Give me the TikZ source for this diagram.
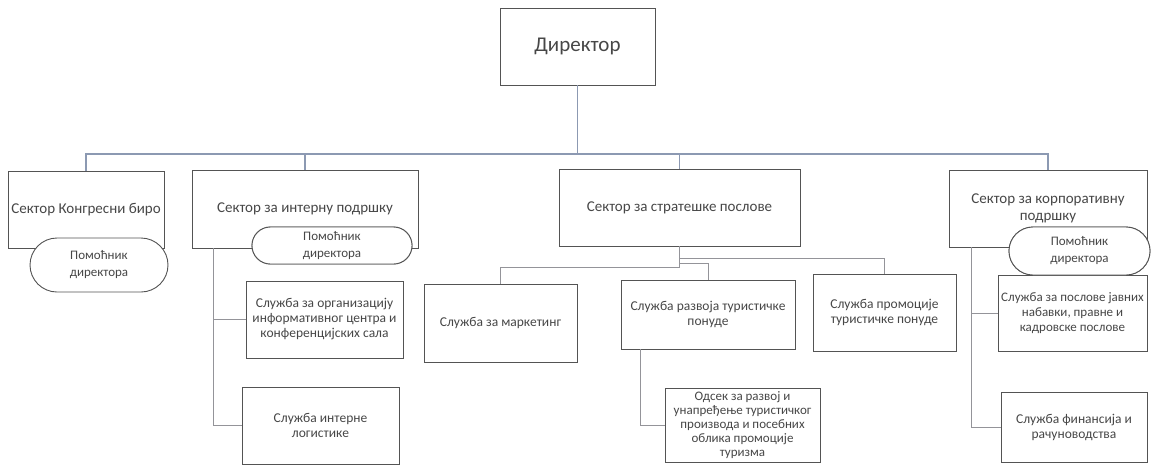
\documentclass[tikz,border=0pt]{standalone}
\usepackage{fontspec}
\setmainfont{Carlito}
\usetikzlibrary{shapes.misc}
\definecolor{boxc}{rgb}{0.33,0.33,0.33}
\definecolor{txtc}{rgb}{0.28,0.28,0.28}
\definecolor{topl}{rgb}{0.55,0.60,0.70}
\definecolor{lowl}{rgb}{0.58,0.58,0.60}
\begin{document}
\begin{tikzpicture}[x=1pt,y=-1pt,
  box/.style={draw=boxc,line width=0.9pt,fill=white,inner sep=0pt,align=center,text=txtc,
    font=\fontsize{13.5}{15}\selectfont},
  sect/.style={box,font=\fontsize{15}{17}\selectfont},
  pill/.style={draw=boxc,line width=0.9pt,fill=white,rounded rectangle,inner sep=0pt,align=center,text=txtc,
    font=\fontsize{13}{17}\selectfont},
  topline/.style={draw=topl,line width=1.2pt},
  lowline/.style={draw=lowl,line width=1pt}]
\useasboundingbox[fill=white] (0,0) rectangle (1154,464);
\node[box,minimum width=155,minimum height=77,font=\fontsize{21}{24}\selectfont] (dir) at (577.5,46.5) {Директор};
\node[sect,minimum width=156,minimum height=77] (s1) at (86,209.5) {Сектор Конгресни биро};
\node[sect,minimum width=226,minimum height=78] (s2) at (305,209) {Сектор за интерну подршку};
\node[sect,minimum width=241,minimum height=77] (s3) at (679.5,207.5) {Сектор за стратешке послове};
\node[sect,minimum width=198,minimum height=77] (s4) at (1048,208.5) {Сектор за корпоративну\\подршку};
\node[pill,minimum width=138,minimum height=54] (p1) at (99,265) {Помоћник\\директора};
\node[pill,minimum width=160,minimum height=37] (p2) at (332,245.5) {Помоћник\\директора};
\node[pill,minimum width=141,minimum height=48] (p3) at (1079.5,251) {Помоћник\\директора};
\node[box,minimum width=157,minimum height=77] (a1) at (324.5,319.5) {Служба за организацију\\информативног центра и\\конференцијских сала};
\node[box,minimum width=157,minimum height=77] (a2) at (320.5,425.5) {Служба интерне\\логистике};
\node[box,minimum width=153,minimum height=78] (b1) at (500.5,323) {Служба за маркетинг};
\node[box,minimum width=174,minimum height=69] (b2) at (708,314.5) {Служба развоја туристичке\\понуде};
\node[box,minimum width=143,minimum height=77] (b3) at (884.5,312.5) {Служба промоције\\туристичке понуде};
\node[box,minimum width=155,minimum height=74,font=\fontsize{13}{14}\selectfont] (b4) at (742.5,425) {Одсек за развој и\\унапређење туристичког\\производа и посебних\\облика промоције\\туризма};
\node[box,minimum width=149,minimum height=76,font=\fontsize{13}{15}\selectfont] (c1) at (1072.5,313) {Служба за послове јавних\\набавки, правне и\\кадровске послове};
\node[box,minimum width=146,minimum height=70] (c2) at (1074,427) {Служба финансија и\\рачуноводства};
% top-level connectors
\coordinate (j0) at (577.5,154);
\draw[topline] (dir) -- (j0) -| (s1);
\draw[topline] (j0) -| (s2);
\draw[topline] (j0) -| (s3);
\draw[topline] (j0) -| (s4);
% internal support
\coordinate (t2) at (213,248);
\draw[lowline] (t2) |- (a1);
\draw[lowline] (t2) |- (a2);
% strategic
\coordinate (t3a) at (679.5,267);
\coordinate (t3b) at (679.5,263);
\coordinate (t3c) at (679.5,258);
\draw[lowline] (s3) -- (t3a) -| (b1);
\draw[lowline] (t3b) -| (b2);
\draw[lowline] (t3c) -| (b3);
\coordinate (t5) at (640,349);
\draw[lowline] (t5) |- (b4);
% corporate
\coordinate (t4) at (971,247);
\draw[lowline] (t4) |- (c1);
\draw[lowline] (t4) |- (c2);
% redraw pills on top of lines
\node[pill,minimum width=160,minimum height=37] at (332,245.5) {Помоћник\\директора};
\node[pill,minimum width=141,minimum height=48] at (1079.5,251) {Помоћник\\директора};
\end{tikzpicture}
\end{document}
